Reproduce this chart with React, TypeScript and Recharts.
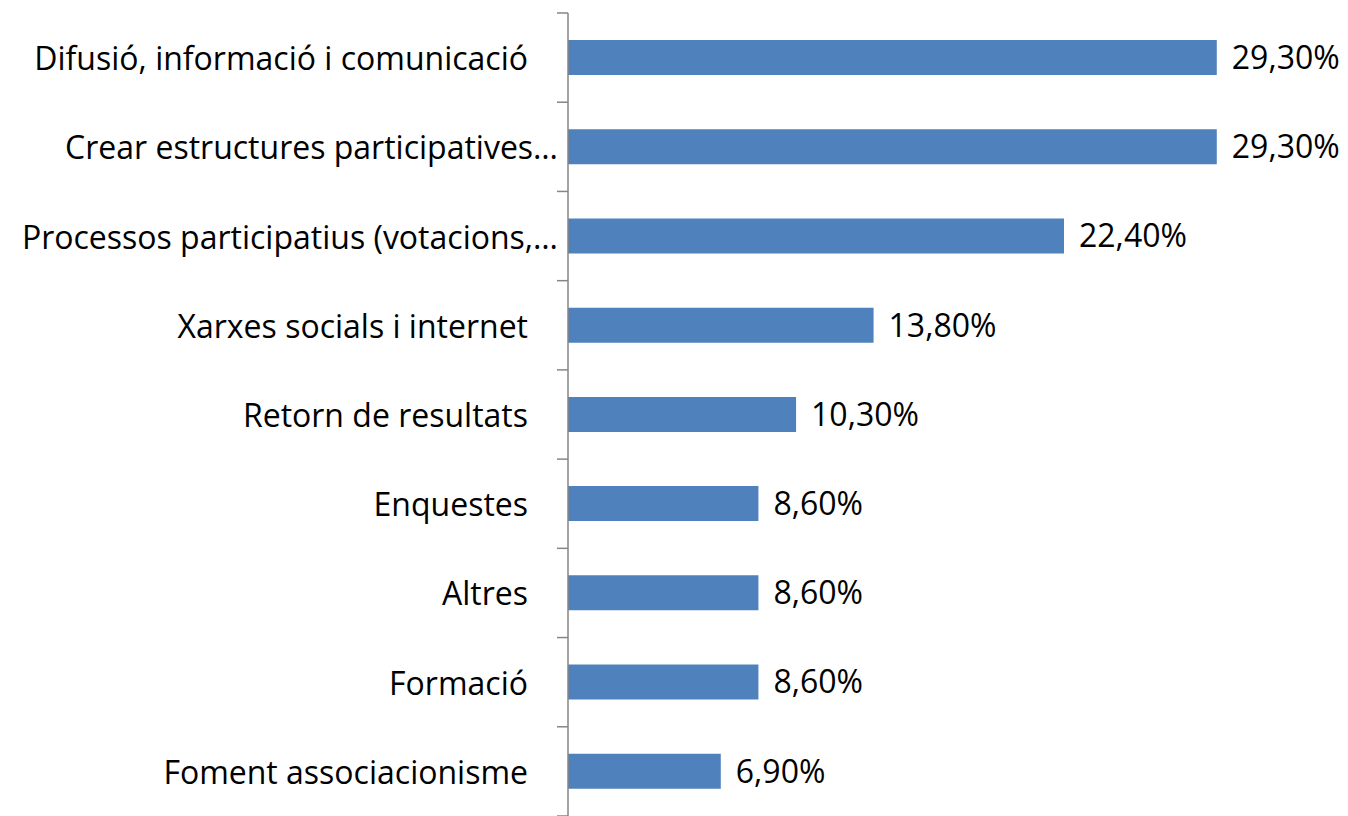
import React from "react";
import { BarChart, Bar, XAxis, YAxis, LabelList } from "recharts";

const categories = [
  "Difusió, informació i comunicació",
  "Crear estructures participatives…",
  "Processos participatius (votacions,…",
  "Xarxes socials i internet",
  "Retorn de resultats",
  "Enquestes",
  "Altres",
  "Formació",
  "Foment associacionisme",
];

const values = [29.3, 29.3, 22.4, 13.8, 10.3, 8.6, 8.6, 8.6, 6.9];

const data = categories.map((name, i) => ({ name, value: values[i] }));

const FONT = "'Open Sans', sans-serif";

const fmt = (v: number) => v.toFixed(2).replace(".", ",") + "%";

const CategoryTick = (props: any) => {
  const { x, y, payload, index } = props;
  const half = payload.offset || 44.6;
  const truncated = payload.value.endsWith("…");
  return (
    <g>
      <line x1={x - 5} x2={x + 6} y1={y - half} y2={y - half} stroke="#868686" strokeWidth={1.5} />
      {index === categories.length - 1 && (
        <line x1={x - 5} x2={x + 6} y1={y + half} y2={y + half} stroke="#868686" strokeWidth={1.5} />
      )}
      <text
        x={truncated ? x - 4 : x - 34}
        y={y}
        textAnchor="end"
        dominantBaseline="central"
        fontFamily={FONT}
        fontSize={32}
        fill="#000"
      >
        {payload.value}
      </text>
    </g>
  );
};

export default function App() {
  return (
    <div style={{ position: "absolute", left: 0, top: 0 }}>
      <BarChart
        width={1348}
        height={816}
        data={data}
        layout="vertical"
        margin={{ top: 13, right: 5, bottom: 0, left: 0 }}
      >
        <XAxis type="number" domain={[0, 35]} hide />
        <YAxis
          type="category"
          dataKey="name"
          width={568}
          tickLine={false}
          axisLine={{ stroke: "#868686", strokeWidth: 1.5 }}
          tick={<CategoryTick />}
          interval={0}
          tickMargin={0}
        />
        <Bar dataKey="value" fill="#4F81BD" barSize={35} isAnimationActive={false}>
          <LabelList
            dataKey="value"
            position="right"
            offset={15}
            formatter={(v: any) => fmt(Number(v))}
            style={{ fontFamily: FONT, fontSize: 32, fill: "#000" }}
          />
        </Bar>
      </BarChart>
    </div>
  );
}
